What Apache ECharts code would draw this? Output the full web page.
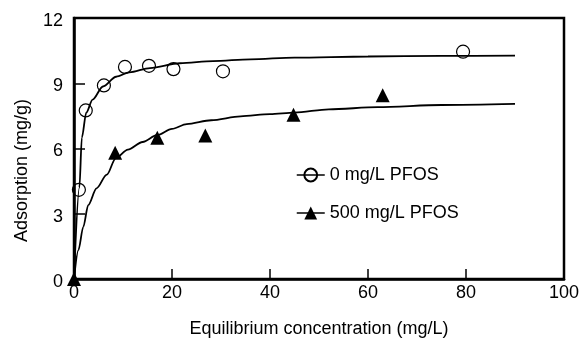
<!DOCTYPE html>
<html>
<head>
<meta charset="utf-8">
<script src="https://cdn.jsdelivr.net/npm/echarts@6/dist/echarts.min.js"></script>
<style>html,body{margin:0;padding:0;background:#fff}#c{width:581px;height:340px}</style>
</head>
<body>
<div id="c"></div>
<script>
// Measured data: 0 mg/L PFOS
const conc0 = [1.0, 2.4, 6.1, 10.4, 15.3, 20.3, 30.4, 79.4];
const ads0  = [4.1, 7.75, 8.9, 9.75, 9.8, 9.65, 9.55, 10.45];
// Measured data: 500 mg/L PFOS
const conc500 = [0, 8.4, 17.0, 26.8, 44.8, 63.0];
const ads500  = [0, 5.8, 6.5, 6.6, 7.55, 8.45];
// Fitted curves
const fitX0 = [0, 1.1, 1.6, 2.5, 3.8, 5.9, 8.6, 11.3, 15.5, 21.6, 28.4, 36, 45, 60, 75, 90];
const fitY0 = [0, 4.2, 6.5, 7.65, 8.25, 8.85, 9.3, 9.5, 9.7, 9.92, 10.02, 10.1, 10.18, 10.23, 10.26, 10.27];
const fitX500 = [0, 0.9, 1.9, 2.9, 4.6, 6.7, 8.5, 11, 14, 17, 20, 23, 28, 34, 40, 45, 52, 62, 75, 90];
const fitY500 = [0, 1.33, 2.4, 3.4, 4.17, 4.8, 5.55, 5.95, 6.3, 6.62, 6.9, 7.12, 7.3, 7.48, 7.58, 7.65, 7.8, 7.9, 8.0, 8.05];
const seriesNames = ['0 mg/L PFOS', '500 mg/L PFOS'];
const xName = 'Equilibrium concentration (mg/L)';
const yName = 'Adsorption (mg/g)';
const xRange = [0, 100];
const yRange = [0, 12];

const zip = (a, b) => a.map((v, i) => [v, b[i]]);
const FONT = "'Liberation Sans', Arial, sans-serif";

const chart = echarts.init(document.getElementById('c'));
chart.setOption({
  animation: false,
  backgroundColor: '#fff',
  textStyle: { fontFamily: FONT, color: '#000' },
  grid: { left: 74, right: 17, top: 18, bottom: 61, containLabel: false, outerBoundsMode: 'none' },
  legend: {
    orient: 'vertical', left: 291, top: 161,
    itemWidth: 28, itemHeight: 16, itemGap: 20,
    textStyle: { fontFamily: FONT, fontSize: 18, color: '#000', lineHeight: 18 },
    lineStyle: { color: '#000', width: 1.5, opacity: 1 },
    data: seriesNames
  },
  xAxis: {
    type: 'value', min: xRange[0], max: xRange[1], interval: 20,
    name: xName, nameLocation: 'middle', nameGap: 41,
    nameTextStyle: { fontFamily: FONT, fontSize: 18, color: '#000' },
    axisLine: { show: true, onZero: false, lineStyle: { color: '#000', width: 2.5 } },
    axisTick: { show: true, inside: true, length: 10, lineStyle: { color: '#000', width: 1.5 } },
    axisLabel: { fontFamily: FONT, fontSize: 18, color: '#000', margin: 5 },
    splitLine: { show: false }
  },
  yAxis: {
    type: 'value', min: yRange[0], max: yRange[1], interval: 3,
    name: yName, nameLocation: 'middle', nameGap: 43,
    nameTextStyle: { fontFamily: FONT, fontSize: 18, color: '#000', padding: [0, 44, 0, 0] },
    axisLine: { show: true, onZero: false, lineStyle: { color: '#000', width: 2.5 } },
    axisTick: { show: true, inside: true, length: 11, lineStyle: { color: '#000', width: 1.5 } },
    axisLabel: { fontFamily: FONT, fontSize: 18, color: '#000', margin: 11, verticalAlign: 'top', lineHeight: 6 },
    splitLine: { show: false }
  },
  series: [
    {
      type: 'line', name: 'fit0', data: zip(fitX0, fitY0), showSymbol: false, symbol: 'none',
      smooth: 0.3, smoothMonotone: 'x',
      lineStyle: { color: '#000', width: 1.8 }, itemStyle: { color: '#000' }, z: 2
    },
    {
      type: 'line', name: 'fit500', data: zip(fitX500, fitY500), showSymbol: false, symbol: 'none',
      smooth: 0.3, smoothMonotone: 'x',
      lineStyle: { color: '#000', width: 1.8 }, itemStyle: { color: '#000' }, z: 2
    },
    {
      type: 'line', name: seriesNames[0], data: zip(conc0, ads0),
      symbol: 'circle', symbolSize: 13, showSymbol: true, clip: false,
      lineStyle: { color: '#000', width: 0, opacity: 0 },
      itemStyle: { color: 'rgba(255,255,255,0)', borderColor: '#000', borderWidth: 1.2 }, z: 3
    },
    {
      type: 'line', name: seriesNames[1], data: zip(conc500, ads500),
      symbol: 'triangle', symbolSize: 14, showSymbol: true, clip: false,
      lineStyle: { color: '#000', width: 0, opacity: 0 },
      itemStyle: { color: '#000', borderColor: '#000', borderWidth: 0 }, z: 4
    }
  ]
});

// Plot frame, positioned through the library's own axis scales
const tl = chart.convertToPixel({ xAxisIndex: 0, yAxisIndex: 0 }, [xRange[0], yRange[1]]);
const br = chart.convertToPixel({ xAxisIndex: 0, yAxisIndex: 0 }, [xRange[1], yRange[0]]);
chart.setOption({
  graphic: [{
    type: 'rect', silent: true, z: 1,
    shape: { x: tl[0], y: tl[1], width: br[0] - tl[0], height: br[1] - tl[1] },
    style: { fill: 'none', stroke: '#000', lineWidth: 2.5 }
  }]
});
</script>
</body>
</html>
